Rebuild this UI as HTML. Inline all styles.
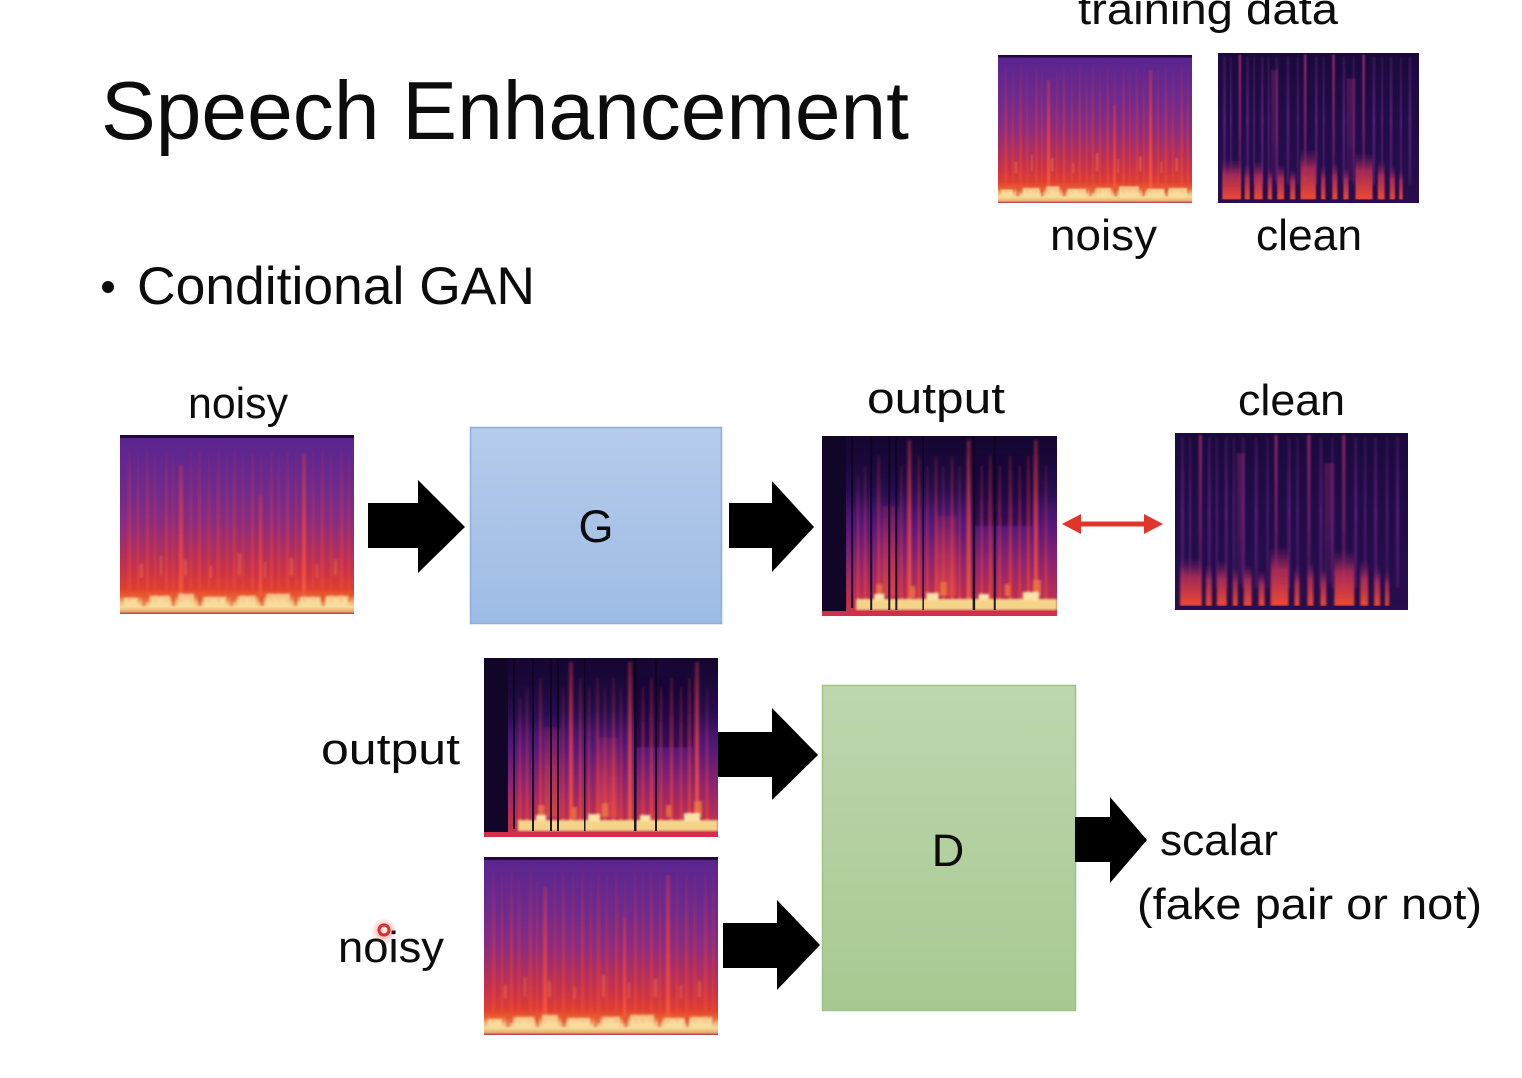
<!DOCTYPE html>
<html>
<head>
<meta charset="utf-8">
<style>
  html, body { margin: 0; padding: 0; background: #ffffff; }
  body { width: 1522px; height: 1078px; overflow: hidden; }
  svg { display: block; }
  text { font-family: "Liberation Sans", sans-serif; fill: #0c0c0c; }
</style>
</head>
<body>
<svg width="1522" height="1078" viewBox="0 0 1522 1078" xmlns="http://www.w3.org/2000/svg">
  <defs>
    <filter id="soft" x="-5%" y="-5%" width="110%" height="110%">
      <feGaussianBlur stdDeviation="1"/>
    </filter>
    <linearGradient id="gNoisy" x1="0" y1="0" x2="0" y2="1">
      <stop offset="0" stop-color="#2a0b44"/>
      <stop offset="0.02" stop-color="#5a2590"/>
      <stop offset="0.3" stop-color="#6e2a8c"/>
      <stop offset="0.5" stop-color="#8a2c80"/>
      <stop offset="0.65" stop-color="#ad2f60"/>
      <stop offset="0.78" stop-color="#cc3444"/>
      <stop offset="0.86" stop-color="#de3f30"/>
      <stop offset="0.9" stop-color="#e8602e"/>
      <stop offset="0.93" stop-color="#f2b070"/>
      <stop offset="0.96" stop-color="#f6dc98"/>
      <stop offset="0.985" stop-color="#eab070"/>
      <stop offset="1" stop-color="#b83050"/>
    </linearGradient>
    <linearGradient id="sR" x1="0" y1="0" x2="0" y2="1">
      <stop offset="0" stop-color="#e03848" stop-opacity="0"/>
      <stop offset="0.25" stop-color="#e03848" stop-opacity="0.25"/>
      <stop offset="0.7" stop-color="#e8403c" stop-opacity="0.55"/>
      <stop offset="1" stop-color="#f0503a" stop-opacity="0.7"/>
    </linearGradient>
    <linearGradient id="sB" x1="0" y1="0" x2="0" y2="1">
      <stop offset="0" stop-color="#e83848" stop-opacity="0.35"/>
      <stop offset="0.5" stop-color="#f04040" stop-opacity="0.8"/>
      <stop offset="1" stop-color="#f86040" stop-opacity="0.9"/>
    </linearGradient>
    <linearGradient id="gClean" x1="0" y1="0" x2="0" y2="1">
      <stop offset="0" stop-color="#1a0a3c"/>
      <stop offset="0.5" stop-color="#210c48"/>
      <stop offset="1" stop-color="#260e4c"/>
    </linearGradient>
    <linearGradient id="pS" x1="0" y1="0" x2="0" y2="1">
      <stop offset="0" stop-color="#7a2a90" stop-opacity="0.25"/>
      <stop offset="0.5" stop-color="#7a2a90" stop-opacity="0.6"/>
      <stop offset="1" stop-color="#7a2a90" stop-opacity="0.35"/>
    </linearGradient>
    <linearGradient id="pB" x1="0" y1="0" x2="0" y2="1">
      <stop offset="0" stop-color="#b8307c" stop-opacity="0.7"/>
      <stop offset="0.6" stop-color="#a02a80" stop-opacity="0.6"/>
      <stop offset="1" stop-color="#8a2880" stop-opacity="0.3"/>
    </linearGradient>
    <linearGradient id="rB" x1="0" y1="0" x2="0" y2="1">
      <stop offset="0" stop-color="#8a2070" stop-opacity="0"/>
      <stop offset="0.4" stop-color="#c03058" stop-opacity="0.8"/>
      <stop offset="1" stop-color="#f04a30" stop-opacity="1"/>
    </linearGradient>
    <linearGradient id="oBase" x1="0" y1="0" x2="0" y2="1">
      <stop offset="0" stop-color="#1a0838"/>
      <stop offset="0.3" stop-color="#2c0f58"/>
      <stop offset="0.5" stop-color="#54187a"/>
      <stop offset="0.7" stop-color="#8a2470"/>
      <stop offset="0.85" stop-color="#b02c5a"/>
      <stop offset="1" stop-color="#c83448"/>
    </linearGradient>
    <linearGradient id="oTop" x1="0" y1="0" x2="0" y2="1">
      <stop offset="0" stop-color="#140630" stop-opacity="0.85"/>
      <stop offset="1" stop-color="#140630" stop-opacity="0"/>
    </linearGradient>
    <linearGradient id="oR" x1="0" y1="0" x2="0" y2="1">
      <stop offset="0" stop-color="#e83a40" stop-opacity="0.15"/>
      <stop offset="0.5" stop-color="#e83a40" stop-opacity="0.5"/>
      <stop offset="1" stop-color="#f04a38" stop-opacity="0.85"/>
    </linearGradient>
    <linearGradient id="gBlue" x1="0" y1="0" x2="0" y2="1">
      <stop offset="0" stop-color="#b6cbea"/>
      <stop offset="1" stop-color="#9dbce6"/>
    </linearGradient>
    <linearGradient id="gGreen" x1="0" y1="0" x2="0" y2="1">
      <stop offset="0" stop-color="#bed6ae"/>
      <stop offset="1" stop-color="#a8c992"/>
    </linearGradient>
    <radialGradient id="glow" cx="0.5" cy="0.5" r="0.5">
      <stop offset="0" stop-color="#ff3030" stop-opacity="0.55"/>
      <stop offset="1" stop-color="#ff3030" stop-opacity="0"/>
    </radialGradient>

    <!-- NOISY -->
    <symbol id="noisy" viewBox="0 0 234 178" preserveAspectRatio="none">
      <rect width="234" height="178" fill="url(#gNoisy)"/>
      <g filter="url(#soft)">
        <g fill="url(#sR)">
          <rect x="8" y="6" width="3" height="160"/>
          <rect x="17" y="10" width="2" height="156"/>
          <rect x="26" y="4" width="3" height="162"/>
          <rect x="34" y="12" width="2" height="154"/>
          <rect x="45" y="6" width="3" height="160"/>
          <rect x="52" y="14" width="2" height="152"/>
          <rect x="70" y="8" width="2" height="158"/>
          <rect x="78" y="6" width="3" height="160"/>
          <rect x="88" y="10" width="2" height="156"/>
          <rect x="97" y="4" width="3" height="162"/>
          <rect x="106" y="12" width="2" height="154"/>
          <rect x="113" y="6" width="3" height="160"/>
          <rect x="122" y="10" width="2" height="156"/>
          <rect x="131" y="8" width="3" height="158"/>
          <rect x="140" y="14" width="2" height="152"/>
          <rect x="150" y="6" width="3" height="160"/>
          <rect x="158" y="10" width="2" height="156"/>
          <rect x="166" y="6" width="3" height="160"/>
          <rect x="175" y="12" width="2" height="154"/>
          <rect x="192" y="8" width="2" height="158"/>
          <rect x="201" y="6" width="3" height="160"/>
          <rect x="210" y="10" width="2" height="156"/>
          <rect x="220" y="6" width="3" height="160"/>
          <rect x="228" y="12" width="2" height="154"/>
        </g>
        <g fill="url(#sB)">
          <rect x="59" y="30" width="4" height="136"/>
          <rect x="182" y="18" width="4" height="148"/>
          <rect x="139" y="60" width="3" height="106"/>
        </g>
        <g fill="#f07040" opacity="0.55">
          <rect x="20" y="128" width="3" height="14"/>
          <rect x="40" y="120" width="2" height="20"/>
          <rect x="64" y="124" width="3" height="16"/>
          <rect x="90" y="130" width="2" height="12"/>
          <rect x="118" y="118" width="3" height="22"/>
          <rect x="144" y="126" width="2" height="16"/>
          <rect x="170" y="122" width="3" height="18"/>
          <rect x="196" y="128" width="2" height="14"/>
          <rect x="214" y="124" width="3" height="16"/>
        </g>
        <g fill="#fbe6a8" opacity="0.75">
          <rect x="4" y="162" width="14" height="8"/>
          <rect x="30" y="160" width="20" height="10"/>
          <rect x="58" y="158" width="16" height="12"/>
          <rect x="84" y="161" width="22" height="9"/>
          <rect x="118" y="160" width="18" height="10"/>
          <rect x="146" y="158" width="24" height="12"/>
          <rect x="180" y="161" width="20" height="9"/>
          <rect x="206" y="160" width="22" height="10"/>
        </g>
        <g fill="#d84030" opacity="0.5">
          <rect x="22" y="160" width="4" height="10"/>
          <rect x="52" y="161" width="3" height="9"/>
          <rect x="78" y="160" width="4" height="10"/>
          <rect x="110" y="161" width="3" height="9"/>
          <rect x="140" y="160" width="4" height="10"/>
          <rect x="174" y="161" width="3" height="9"/>
          <rect x="202" y="160" width="3" height="10"/>
        </g>
      </g>
      <rect y="0" width="234" height="3" fill="#24083c"/>
    </symbol>

    <!-- CLEAN -->
    <symbol id="clean" viewBox="0 0 234 176" preserveAspectRatio="none">
      <rect width="234" height="176" fill="url(#gClean)"/>
      <g filter="url(#soft)">
        <g fill="url(#pS)">
          <rect x="6" y="4" width="3" height="150"/>
          <rect x="14" y="4" width="2" height="150"/>
          <rect x="33" y="4" width="3" height="150"/>
          <rect x="41" y="4" width="2" height="150"/>
          <rect x="50" y="4" width="3" height="150"/>
          <rect x="58" y="4" width="2" height="150"/>
          <rect x="67" y="4" width="3" height="150"/>
          <rect x="80" y="4" width="3" height="150"/>
          <rect x="92" y="4" width="2" height="150"/>
          <rect x="113" y="4" width="3" height="150"/>
          <rect x="122" y="4" width="2" height="150"/>
          <rect x="145" y="4" width="3" height="150"/>
          <rect x="157" y="4" width="2" height="150"/>
          <rect x="180" y="4" width="3" height="150"/>
          <rect x="190" y="4" width="2" height="150"/>
          <rect x="200" y="4" width="3" height="150"/>
          <rect x="212" y="4" width="2" height="150"/>
          <rect x="222" y="4" width="3" height="150"/>
        </g>
        <g fill="url(#pB)">
          <rect x="24" y="2" width="3" height="150"/>
          <rect x="100" y="2" width="3" height="150"/>
          <rect x="133" y="2" width="3" height="150"/>
          <rect x="168" y="2" width="3" height="150"/>
          <rect x="62" y="20" width="8" height="130" opacity="0.45"/>
          <rect x="150" y="30" width="10" height="120" opacity="0.45"/>
        </g>
        <g fill="url(#rB)">
          <rect x="5" y="124" width="22" height="48"/>
          <rect x="31" y="130" width="6" height="42"/>
          <rect x="42" y="126" width="10" height="46"/>
          <rect x="58" y="134" width="5" height="38"/>
          <rect x="69" y="130" width="8" height="42"/>
          <rect x="84" y="136" width="6" height="36"/>
          <rect x="96" y="112" width="18" height="60"/>
          <rect x="120" y="132" width="5" height="40"/>
          <rect x="133" y="128" width="6" height="44"/>
          <rect x="146" y="134" width="6" height="38"/>
          <rect x="160" y="116" width="20" height="56"/>
          <rect x="186" y="126" width="8" height="46"/>
          <rect x="200" y="132" width="6" height="40"/>
          <rect x="211" y="136" width="4" height="36"/>
        </g>
      </g>
      <rect y="172" width="234" height="4" fill="#2a0d50"/>
    </symbol>

    <!-- OUTPUT -->
    <symbol id="output" viewBox="0 0 234 180" preserveAspectRatio="none">
      <rect width="234" height="180" fill="url(#oBase)"/>
      <rect width="234" height="75" fill="url(#oTop)"/>
      <g filter="url(#soft)">
        <rect x="150" y="20" width="60" height="70" fill="#180834" opacity="0.5"/>
        <g fill="url(#oR)">
          <rect x="35" y="40" width="2" height="130"/>
          <rect x="42" y="30" width="2" height="140"/>
          <rect x="55" y="20" width="3" height="150"/>
          <rect x="78" y="30" width="2" height="140"/>
          <rect x="95" y="20" width="3" height="150"/>
          <rect x="104" y="30" width="2" height="140"/>
          <rect x="112" y="20" width="3" height="150"/>
          <rect x="120" y="30" width="2" height="140"/>
          <rect x="128" y="20" width="3" height="150"/>
          <rect x="136" y="30" width="2" height="140"/>
          <rect x="158" y="30" width="2" height="140"/>
          <rect x="166" y="20" width="3" height="150"/>
          <rect x="176" y="30" width="2" height="140"/>
          <rect x="186" y="20" width="3" height="150"/>
          <rect x="196" y="30" width="2" height="140"/>
          <rect x="204" y="20" width="3" height="150"/>
          <rect x="222" y="30" width="2" height="140"/>
        </g>
        <g fill="url(#sB)">
          <rect x="85" y="4" width="4" height="166"/>
          <rect x="144" y="4" width="4" height="166"/>
          <rect x="211" y="4" width="4" height="166"/>
          <rect x="60" y="70" width="16" height="90" opacity="0.5"/>
          <rect x="114" y="80" width="20" height="80" opacity="0.45"/>
        </g>
        <g fill="#f08040" opacity="0.7">
          <rect x="54" y="148" width="6" height="12"/>
          <rect x="88" y="150" width="5" height="12"/>
          <rect x="118" y="146" width="6" height="14"/>
          <rect x="182" y="148" width="5" height="12"/>
          <rect x="210" y="144" width="8" height="16"/>
        </g>
        <rect x="34" y="163" width="200" height="11" fill="#f5d48a"/>
        <g fill="#f8e4a8">
          <rect x="52" y="158" width="10" height="6"/>
          <rect x="104" y="157" width="12" height="7"/>
          <rect x="156" y="158" width="10" height="6"/>
          <rect x="200" y="156" width="16" height="8"/>
        </g>
      </g>
      <rect x="0" y="0" width="24" height="175" fill="#120628"/>
      <g fill="#0e0420" opacity="0.9">
        <rect x="29" y="0" width="2" height="172"/>
        <rect x="48" y="0" width="2" height="174"/>
        <rect x="66" y="0" width="2" height="174"/>
        <rect x="73" y="0" width="2" height="174"/>
        <rect x="100" y="0" width="1.5" height="174"/>
        <rect x="150" y="0" width="2.5" height="174"/>
        <rect x="171" y="0" width="2" height="174"/>
      </g>
      <rect y="175" width="234" height="5" fill="#d0304a"/>
    </symbol>
  </defs>

  <!-- Title -->
  <text x="101" y="139" font-size="83" textLength="808" lengthAdjust="spacingAndGlyphs">Speech Enhancement</text>

  <!-- training data -->
  <text x="1078" y="24" font-size="44" textLength="260" lengthAdjust="spacingAndGlyphs">training data</text>
  <use href="#noisy" x="998" y="55" width="194" height="148"/>
  <use href="#clean" x="1218" y="53" width="201" height="150"/>
  <text x="1050" y="250" font-size="44" textLength="107" lengthAdjust="spacingAndGlyphs">noisy</text>
  <text x="1256" y="250" font-size="44" textLength="106" lengthAdjust="spacingAndGlyphs">clean</text>

  <!-- bullet -->
  <circle cx="108" cy="287" r="6" fill="#0c0c0c"/>
  <text x="137" y="304" font-size="53" textLength="398" lengthAdjust="spacingAndGlyphs">Conditional GAN</text>

  <!-- Generator row -->
  <text x="188" y="418" font-size="44" textLength="100" lengthAdjust="spacingAndGlyphs">noisy</text>
  <use href="#noisy" x="120" y="435" width="234" height="179"/>

  <polygon points="368,503 418,503 418,480 465,527 418,573 418,548 368,548" fill="#000"/>

  <rect x="470.5" y="427.5" width="251" height="196" fill="url(#gBlue)" stroke="#8eaedb" stroke-width="1.5"/>
  <text x="596" y="542" font-size="45" text-anchor="middle">G</text>

  <polygon points="729,503 772,503 772,481 814,527 772,572 772,548 729,548" fill="#000"/>

  <text x="867" y="413" font-size="44" textLength="138" lengthAdjust="spacingAndGlyphs">output</text>
  <use href="#output" x="822" y="436" width="235" height="180"/>

  <!-- red double arrow -->
  <line x1="1076" y1="524" x2="1149" y2="524" stroke="#e0352b" stroke-width="5"/>
  <polygon points="1062,524 1081,514 1081,534" fill="#e0352b"/>
  <polygon points="1163,524 1144,514 1144,534" fill="#e0352b"/>

  <text x="1238" y="415" font-size="44" textLength="107" lengthAdjust="spacingAndGlyphs">clean</text>
  <use href="#clean" x="1175" y="433" width="233" height="177"/>

  <!-- Discriminator row -->
  <text x="321" y="764" font-size="44" textLength="139" lengthAdjust="spacingAndGlyphs">output</text>
  <use href="#output" x="484" y="658" width="234" height="179"/>

  <text x="338" y="962" font-size="44" textLength="106" lengthAdjust="spacingAndGlyphs">noisy</text>
  <use href="#noisy" x="484" y="857" width="234" height="178"/>

  <!-- cursor dot -->
  <circle cx="384" cy="931" r="13" fill="url(#glow)"/>
  <circle cx="384" cy="930" r="5" fill="#ffe8e8" stroke="#e02a2a" stroke-width="3"/>

  <polygon points="718,732 772,732 772,708 818,755 772,800 772,777 718,777" fill="#000"/>
  <polygon points="723,923 777,923 777,900 820,945 777,990 777,968 723,968" fill="#000"/>

  <rect x="822.5" y="685.5" width="253" height="325" fill="url(#gGreen)" stroke="#9cc585" stroke-width="1.5"/>
  <text x="948" y="866" font-size="45" text-anchor="middle">D</text>

  <polygon points="1075,817 1110,817 1110,797 1147,840 1110,883 1110,862 1075,862" fill="#000"/>

  <text x="1160" y="855" font-size="44" textLength="118" lengthAdjust="spacingAndGlyphs">scalar</text>
  <text x="1137" y="919" font-size="44" textLength="345" lengthAdjust="spacingAndGlyphs">(fake pair or not)</text>
</svg>
</body>
</html>
